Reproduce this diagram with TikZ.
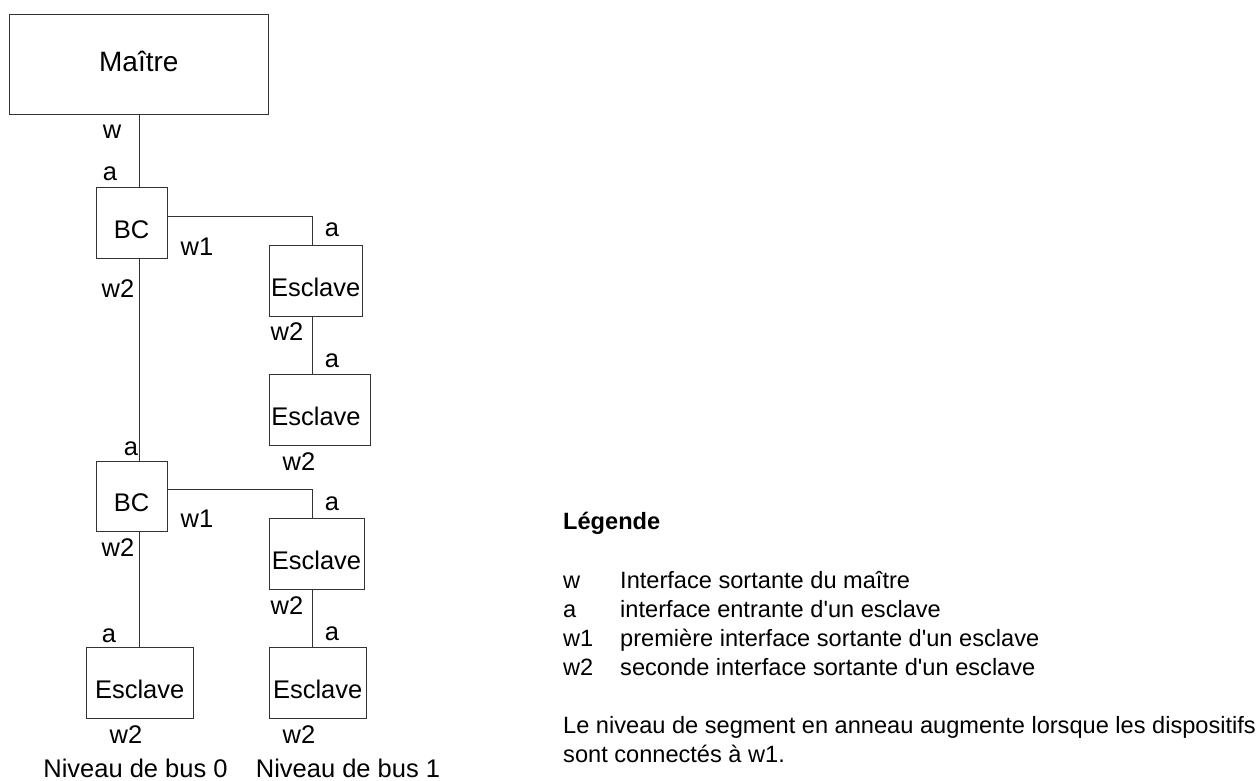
\documentclass[tikz,border=0pt]{standalone}
\usepackage{fontspec}
\setmainfont{Liberation Sans}[Ligatures=TeXOff]
\begin{document}
\begin{tikzpicture}[x=1pt,y=-1pt,
  box/.style={draw=black!80, line width=1pt, inner sep=0pt, text height=31pt, text depth=0pt, font=\fontsize{25.5}{30}\selectfont},
  mbox/.style={draw=black!80, line width=1pt, inner sep=0pt, text depth=6pt, font=\fontsize{28}{32}\selectfont},
  port/.style={inner sep=0pt, font=\fontsize{25.5}{30}\selectfont},
  wire/.style={draw=black!80, line width=1pt},
  legend/.style={anchor=base west, inner sep=0pt, font=\fontsize{23.6}{28}\selectfont}]
\useasboundingbox (0,0) rectangle (1258,781);
\coordinate (bus) at (139.3,0);
\coordinate (branch) at (312.3,0);
\node[mbox, minimum width=259, minimum height=100] (maitre) at (138.8,64.7) {Maître};
\node[box, minimum width=71, minimum height=70.6] (bcA) at (131.5,223) {BC};
\node[box, minimum width=71, minimum height=70.6] (bcB) at (131.5,496.3) {BC};
\node[box, minimum width=93.3, minimum height=70.7] (esclA) at (315.7,280.7) {Esclave};
\node[box, minimum width=101, minimum height=71] (esclB) at (319.5,409.8) {\hspace*{-7pt}Esclave};
\node[box, minimum width=95, minimum height=71] (esclC) at (316.5,553.8) {Esclave};
\node[box, minimum width=107.3, minimum height=71.3] (esclD) at (139.7,683.3) {Esclave};
\node[box, minimum width=97.3, minimum height=71.3] (esclE) at (317.7,683.3) {Esclave};
\draw[wire] (maitre.south -| bus) -- (bcA.north -| bus);
\draw[wire] (bcA.south -| bus) -- (bcB.north -| bus);
\draw[wire] (bcB.south -| bus) -- (esclD.north -| bus);
\draw[wire] ([yshift=7pt]bcA.east) -| (esclA.north -| branch);
\draw[wire] (esclA.south -| branch) -- (esclB.north -| branch);
\draw[wire] ([yshift=7pt]bcB.east) -| (esclC.north -| branch);
\draw[wire] (esclC.south -| branch) -- (esclE.north -| branch);
\node[port] (pw) at (112,132) {w};
\node[port] (paA) at (110,174) {a};
\node[port] (pw2A) at (118,289) {w2};
\node[port] (pw1A) at (197,247) {w1};
\node[port] (paB) at (332,230) {a};
\node[port] (pw2B) at (287,332) {w2};
\node[port] (paC) at (332,361) {a};
\node[port] (pw2C) at (299,462) {w2};
\node[port] (paD) at (131,449) {a};
\node[port] (pw1D) at (197,519) {w1};
\node[port] (pw2D) at (118,548) {w2};
\node[port] (paE) at (332,504) {a};
\node[port] (pw2E) at (287,606) {w2};
\node[port] (paF) at (332,634) {a};
\node[port] (paG) at (109,636) {a};
\node[port] (pw2G) at (126,735) {w2};
\node[port] (pw2H) at (299,735) {w2};
\node[port] (niv0) at (135.5,768) {Niveau de bus 0};
\node[port] (niv1) at (348,768) {Niveau de bus 1};
\node[legend, font=\fontsize{23.6}{28}\selectfont\bfseries] (leg) at (563,529) {Légende};
\node[legend] (kw) at (563,588) {w};
\node[legend] (ka) at (563,617) {a};
\node[legend] (kw1) at (563,646) {w1};
\node[legend] (kw2) at (563,675) {w2};
\node[legend] (dw) at (620,588) {Interface sortante du maître};
\node[legend] (da) at (620,617) {interface entrante d'un esclave};
\node[legend] (dw1) at (620,646) {première interface sortante d'un esclave};
\node[legend] (dw2) at (620,675) {seconde interface sortante d'un esclave};
\node[legend] (noteA) at (563,733) {Le niveau de segment en anneau augmente lorsque les dispositifs};
\node[legend] (noteB) at (563,762) {sont connectés à w1.};
\end{tikzpicture}
\end{document}
